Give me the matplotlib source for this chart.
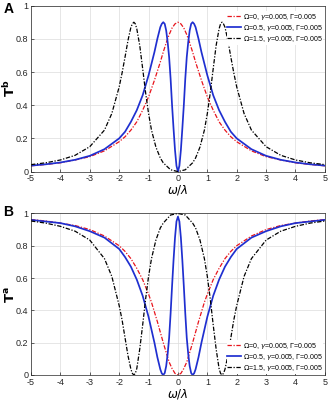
import numpy as np
import matplotlib
matplotlib.use("Agg")
import matplotlib.pyplot as plt

plt.rcParams['font.family'] = ['Liberation Sans', 'DejaVu Sans']
plt.rcParams['mathtext.fontset'] = 'dejavusans'

# values, right half only (curves are symmetric about w=0)
x_red = [0, 0.1, 0.2, 0.3, 0.4, 0.5, 0.6, 0.7, 0.8, 0.9, 1.0, 1.2, 1.4, 1.6, 1.8,
         2.0, 2.5, 3.0, 3.5, 4.0, 4.5, 5.0]
Tb_red = [0.90, 0.89, 0.865, 0.825, 0.775, 0.72, 0.66, 0.605, 0.55, 0.50, 0.45, 0.37,
          0.30, 0.25, 0.21, 0.18, 0.125, 0.09, 0.07, 0.053, 0.043, 0.035]
Ta_red = [0.0, 0.01, 0.04, 0.08, 0.14, 0.20, 0.265, 0.33, 0.39, 0.45, 0.50, 0.59,
          0.66, 0.72, 0.765, 0.80, 0.86, 0.90, 0.925, 0.94, 0.953, 0.962]

x_blue = [0, 0.05, 0.1, 0.15, 0.2, 0.25, 0.3, 0.35, 0.4, 0.45, 0.5, 0.55, 0.6, 0.7,
          0.8, 0.9, 1.0, 1.2, 1.4, 1.6, 1.8, 2.0, 2.5, 3.0, 3.5, 4.0, 4.5, 5.0]
Tb_blue = [0.0, 0.035, 0.13, 0.26, 0.40, 0.56, 0.69, 0.78, 0.85, 0.89, 0.90, 0.89,
           0.87, 0.80, 0.72, 0.65, 0.58, 0.46, 0.37, 0.30, 0.24, 0.20, 0.135, 0.095,
           0.071, 0.055, 0.044, 0.036]
Ta_blue = [0.98, 0.95, 0.85, 0.71, 0.55, 0.38, 0.23, 0.13, 0.055, 0.012, 0.0, 0.01,
           0.035, 0.11, 0.20, 0.28, 0.36, 0.49, 0.59, 0.67, 0.73, 0.78, 0.85, 0.89,
           0.92, 0.94, 0.95, 0.96]

x_blk = [0, 0.25, 0.5, 0.6, 0.75, 0.9, 1.0, 1.1, 1.2, 1.3, 1.4, 1.45, 1.5, 1.55,
         1.6, 1.7, 1.8, 1.9, 2.0, 2.25, 2.5, 3.0, 3.5, 4.0, 4.5, 5.0]
Tb_blk = [0.0, 0.011, 0.053, 0.082, 0.148, 0.25, 0.35, 0.475, 0.62, 0.76, 0.86, 0.89,
          0.90, 0.89, 0.87, 0.79, 0.69, 0.595, 0.51, 0.35, 0.25, 0.15, 0.098, 0.07,
          0.053, 0.042]
Ta_blk = [1.0, 0.99, 0.94, 0.91, 0.835, 0.72, 0.61, 0.47, 0.31, 0.16, 0.04, 0.01,
          0.0, 0.01, 0.035, 0.12, 0.23, 0.34, 0.43, 0.61, 0.72, 0.835, 0.89, 0.92,
          0.94, 0.953]

labels = [r'$\Omega$=0, $\gamma$=0.005, $\Gamma$=0.005',
          r'$\Omega$=0.5, $\gamma$=0.005, $\Gamma$=0.005',
          r'$\Omega$=1.5, $\gamma$=0.005, $\Gamma$=0.005']
xticks = [-5, -4, -3, -2, -1, 0, 1, 2, 3, 4, 5]
yticks = [0, 0.2, 0.4, 0.6, 0.8, 1]


def mirror(x, y):
    x = np.asarray(x)
    y = np.asarray(y)
    return np.concatenate([-x[:0:-1], x]), np.concatenate([y[:0:-1], y])


dashdot = (0, (3.5, 1.3, 1, 1.3))

fig = plt.figure(figsize=(3.28, 4.0), dpi=100)
axA = fig.add_axes([0.0945, 0.571, 0.896, 0.415])
axB = fig.add_axes([0.0945, 0.0625, 0.896, 0.404])


def draw(ax, yr, yb, yk, ylab, loc, anchor):
    ax.plot(*mirror(x_red, yr), color='#e8141c', lw=0.9, ls=dashdot, label=labels[0])
    ax.plot(*mirror(x_blue, yb), color='#1f2fd0', lw=1.25, ls='-', label=labels[1])
    ax.plot(*mirror(x_blk, yk), color='black', lw=0.9, ls=dashdot, label=labels[2])
    ax.set_xlim(-5, 5)
    ax.set_ylim(0, 1)
    ax.set_xticks(xticks)
    ax.set_xticklabels([str(t) for t in xticks])
    ax.set_yticks(yticks)
    ax.set_yticklabels(['0', '0.2', '0.4', '0.6', '0.8', '1'])
    ax.tick_params(direction='in', length=2.5, width=0.5, labelsize=6.5,
                   colors='#262626', pad=2)
    ax.grid(True, color='#dcdcdc', lw=0.5)
    ax.set_axisbelow(True)
    for s in ax.spines.values():
        s.set_linewidth(0.5)
        s.set_color('#262626')
    ax.set_ylabel(ylab, fontsize=9.5)
    ax.yaxis.set_label_coords(-0.045, 0.5)
    ax.set_xlabel(r'$\omega/\lambda$', fontsize=8.5, labelpad=0)
    leg = ax.legend(loc=loc, bbox_to_anchor=anchor, fontsize=5, frameon=True,
                    handlelength=2.0, handletextpad=0.25, labelspacing=0.15,
                    borderpad=0.1, borderaxespad=0.2)
    leg.get_frame().set_edgecolor('none')
    leg.get_frame().set_facecolor('white')
    leg.get_frame().set_alpha(1)
    leg.get_frame().set_boxstyle('square', pad=0)


draw(axA, Tb_red, Tb_blue, Tb_blk, r'$\mathbf{T^b}$', 'upper right', (1.0, 0.975))
draw(axB, Ta_red, Ta_blue, Ta_blk, r'$\mathbf{T^a}$', 'lower right', (1.0, 0.0))
axB.xaxis.set_label_coords(0.5, -0.075)

fig.text(0.01, 0.995, 'A', fontsize=10, fontweight='bold', va='top', ha='left')
fig.text(0.01, 0.487, 'B', fontsize=10, fontweight='bold', va='top', ha='left')

fig.savefig('out.png', dpi=100)
